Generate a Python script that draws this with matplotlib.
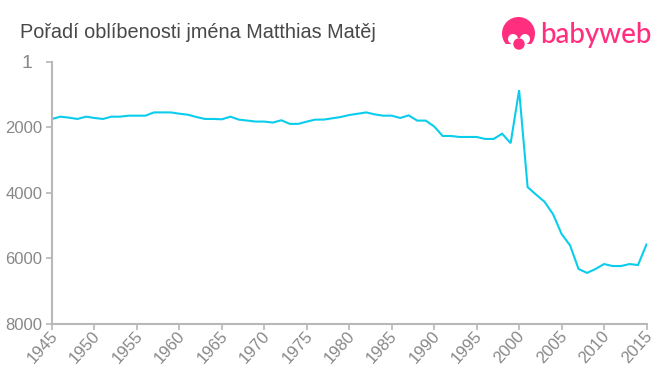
import matplotlib
matplotlib.use("Agg")
import matplotlib.pyplot as plt
from matplotlib.patches import Circle, Rectangle
from matplotlib.transforms import ScaledTranslation

plt.rcParams['font.family'] = ['Liberation Sans', 'DejaVu Sans']

title = "Pořadí oblíbenosti jména Matthias Matěj"
years = list(range(1945, 2016))
ranks = [1740, 1670, 1700, 1740, 1670, 1710, 1740, 1670, 1670, 1640,
         1640, 1640, 1540, 1540, 1540, 1580, 1610, 1680, 1740, 1740,
         1750, 1670, 1760, 1790, 1820, 1820, 1850, 1780, 1890, 1890,
         1820, 1760, 1760, 1720, 1680, 1620, 1580, 1540, 1600, 1640,
         1640, 1710, 1630, 1790, 1790, 1970, 2260, 2260, 2290, 2290,
         2290, 2350, 2350, 2190, 2480, 860, 3820, 4050, 4270, 4650,
         5250, 5600, 6320, 6440, 6320, 6170, 6230, 6230, 6170, 6200,
         5570]
x_ticks = list(range(1945, 2016, 5))
y_ticks = [1, 2000, 4000, 6000, 8000]
y_labels = ['', '2000', '4000', '6000', '8000']

W, H = 660, 375
fig = plt.figure(figsize=(W / 100, H / 100), dpi=100)
ax = fig.add_axes([52 / W, 1 - 324 / H, (646.5 - 52) / W, (324 - 62) / H])

ax.plot(years, ranks, color='#0acdec', linewidth=1.5, solid_joinstyle='miter')
ax.set_xlim(1945, 2015)
ax.set_ylim(8000, 1)
ax.set_xticks(x_ticks)
ax.set_yticks(y_ticks)
ax.set_yticklabels(y_labels)
ax.set_xticklabels(x_ticks, rotation=48, ha='right', va='center', rotation_mode='anchor')

for s in ['top', 'right']:
    ax.spines[s].set_visible(False)
for s in ['left', 'bottom']:
    ax.spines[s].set_color('#b8b8b8')
    ax.spines[s].set_linewidth(1.5)
ax.tick_params(axis='both', color='#b8b8b8', width=1.2, length=4,
               labelcolor='#888888', labelsize=12, pad=3)
ax.tick_params(axis='x', pad=3)

# nudge the rotated labels to the right so they end just past the tick
shift = ScaledTranslation(3 / 100, 0, fig.dpi_scale_trans)
for lab in ax.get_xticklabels():
    lab.set_transform(lab.get_transform() + shift)

# the top label is bigger and sits further left than the others
fig.text(32 / W, 1 - 63 / H, '1', fontsize=14, color='#888888', ha='right', va='center')
fig.text(20 / W, 1 - 32 / H, title, fontsize=14.3, color='#484848', va='center')

# logo
pink = '#ff2e7e'
logo = fig.add_axes([0, 0, 1, 1], facecolor='none')
logo.set_xlim(0, W)
logo.set_ylim(H, 0)
logo.axis('off')
logo.add_patch(Circle((518.5, 33.5), 16.5, color=pink, lw=0))
logo.add_patch(Circle((513, 39), 5, color='white', lw=0))
logo.add_patch(Circle((525, 39), 5, color='white', lw=0))
logo.add_patch(Rectangle((500, 44), 38, 8, color='white', lw=0))
logo.add_patch(Rectangle((511, 38), 16, 7, color='white', lw=0))
logo.add_patch(Circle((519, 44), 5.7, color=pink, lw=0))
logo.text(540.5, 35, "babyweb", fontsize=20, color=pink, family='Lato',
          weight='medium', va='center', ha='left')

fig.savefig('out.png', dpi=100)
